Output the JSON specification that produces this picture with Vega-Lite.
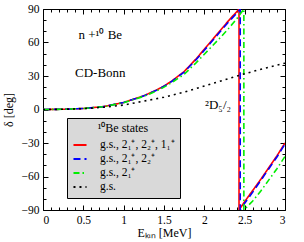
{
  "$schema": "https://vega.github.io/schema/vega-lite/v6.json",
  "width": 242,
  "height": 201,
  "autosize": "none",
  "padding": {"left": 43, "top": 9, "right": 19, "bottom": 32},
  "background": "white",
  "config": {
    "font": "Liberation Serif",
    "view": {"stroke": "black", "strokeWidth": 1},
    "axis": {"labelFont": "Liberation Serif", "titleFont": "Liberation Serif", "labelColor": "black", "titleColor": "black", "tickColor": "black", "domain": false, "grid": false, "labelFontSize": 11.5, "titleFontSize": 12, "titleFontWeight": "normal"}
  },
  "datasets": {
    "curves": [
      {"s": "g.s., 2₁⁺, 2₂⁺, 1₁⁺", "i": 1, "E": 0, "d": 0},
      {"s": "g.s., 2₁⁺, 2₂⁺, 1₁⁺", "i": 2, "E": 0.25, "d": 0.2},
      {"s": "g.s., 2₁⁺, 2₂⁺, 1₁⁺", "i": 3, "E": 0.5, "d": 0.9},
      {"s": "g.s., 2₁⁺, 2₂⁺, 1₁⁺", "i": 4, "E": 0.75, "d": 2.6},
      {"s": "g.s., 2₁⁺, 2₂⁺, 1₁⁺", "i": 5, "E": 1.0, "d": 6.3},
      {"s": "g.s., 2₁⁺, 2₂⁺, 1₁⁺", "i": 6, "E": 1.25, "d": 12.3},
      {"s": "g.s., 2₁⁺, 2₂⁺, 1₁⁺", "i": 7, "E": 1.4, "d": 17.2},
      {"s": "g.s., 2₁⁺, 2₂⁺, 1₁⁺", "i": 8, "E": 1.5, "d": 21},
      {"s": "g.s., 2₁⁺, 2₂⁺, 1₁⁺", "i": 9, "E": 1.6, "d": 25.7},
      {"s": "g.s., 2₁⁺, 2₂⁺, 1₁⁺", "i": 10, "E": 1.75, "d": 34},
      {"s": "g.s., 2₁⁺, 2₂⁺, 1₁⁺", "i": 11, "E": 1.9, "d": 45.5},
      {"s": "g.s., 2₁⁺, 2₂⁺, 1₁⁺", "i": 12, "E": 2.0, "d": 54},
      {"s": "g.s., 2₁⁺, 2₂⁺, 1₁⁺", "i": 13, "E": 2.1, "d": 62.5},
      {"s": "g.s., 2₁⁺, 2₂⁺, 1₁⁺", "i": 14, "E": 2.2, "d": 71},
      {"s": "g.s., 2₁⁺, 2₂⁺, 1₁⁺", "i": 15, "E": 2.3, "d": 79.5},
      {"s": "g.s., 2₁⁺, 2₂⁺, 1₁⁺", "i": 16, "E": 2.4, "d": 87.5},
      {"s": "g.s., 2₁⁺, 2₂⁺, 1₁⁺", "i": 17, "E": 2.43, "d": 90},
      {"s": "g.s., 2₁⁺, 2₂⁺, 1₁⁺", "i": 18, "E": 2.43, "d": -90},
      {"s": "g.s., 2₁⁺, 2₂⁺, 1₁⁺", "i": 19, "E": 2.5, "d": -82.5},
      {"s": "g.s., 2₁⁺, 2₂⁺, 1₁⁺", "i": 20, "E": 2.6, "d": -72.5},
      {"s": "g.s., 2₁⁺, 2₂⁺, 1₁⁺", "i": 21, "E": 2.7, "d": -62.5},
      {"s": "g.s., 2₁⁺, 2₂⁺, 1₁⁺", "i": 22, "E": 2.8, "d": -52},
      {"s": "g.s., 2₁⁺, 2₂⁺, 1₁⁺", "i": 23, "E": 2.9, "d": -41.5},
      {"s": "g.s., 2₁⁺, 2₂⁺, 1₁⁺", "i": 24, "E": 3.0, "d": -30},
      {"s": "g.s., 2₁⁺, 2₂⁺", "i": 1, "E": 0, "d": 0},
      {"s": "g.s., 2₁⁺, 2₂⁺", "i": 2, "E": 0.25, "d": 0.2},
      {"s": "g.s., 2₁⁺, 2₂⁺", "i": 3, "E": 0.5, "d": 0.9},
      {"s": "g.s., 2₁⁺, 2₂⁺", "i": 4, "E": 0.75, "d": 2.6},
      {"s": "g.s., 2₁⁺, 2₂⁺", "i": 5, "E": 1.0, "d": 6.3},
      {"s": "g.s., 2₁⁺, 2₂⁺", "i": 6, "E": 1.25, "d": 12.2},
      {"s": "g.s., 2₁⁺, 2₂⁺", "i": 7, "E": 1.4, "d": 17},
      {"s": "g.s., 2₁⁺, 2₂⁺", "i": 8, "E": 1.5, "d": 20.8},
      {"s": "g.s., 2₁⁺, 2₂⁺", "i": 9, "E": 1.6, "d": 25.3},
      {"s": "g.s., 2₁⁺, 2₂⁺", "i": 10, "E": 1.75, "d": 33.5},
      {"s": "g.s., 2₁⁺, 2₂⁺", "i": 11, "E": 1.9, "d": 44.8},
      {"s": "g.s., 2₁⁺, 2₂⁺", "i": 12, "E": 2.0, "d": 53},
      {"s": "g.s., 2₁⁺, 2₂⁺", "i": 13, "E": 2.1, "d": 61.5},
      {"s": "g.s., 2₁⁺, 2₂⁺", "i": 14, "E": 2.2, "d": 70},
      {"s": "g.s., 2₁⁺, 2₂⁺", "i": 15, "E": 2.3, "d": 78.3},
      {"s": "g.s., 2₁⁺, 2₂⁺", "i": 16, "E": 2.4, "d": 86.2},
      {"s": "g.s., 2₁⁺, 2₂⁺", "i": 17, "E": 2.445, "d": 90},
      {"s": "g.s., 2₁⁺, 2₂⁺", "i": 18, "E": 2.445, "d": -90},
      {"s": "g.s., 2₁⁺, 2₂⁺", "i": 19, "E": 2.5, "d": -84},
      {"s": "g.s., 2₁⁺, 2₂⁺", "i": 20, "E": 2.6, "d": -74},
      {"s": "g.s., 2₁⁺, 2₂⁺", "i": 21, "E": 2.7, "d": -63.5},
      {"s": "g.s., 2₁⁺, 2₂⁺", "i": 22, "E": 2.8, "d": -53},
      {"s": "g.s., 2₁⁺, 2₂⁺", "i": 23, "E": 2.9, "d": -42.5},
      {"s": "g.s., 2₁⁺, 2₂⁺", "i": 24, "E": 3.0, "d": -31},
      {"s": "g.s., 2₁⁺", "i": 1, "E": 0, "d": 0},
      {"s": "g.s., 2₁⁺", "i": 2, "E": 0.25, "d": 0.2},
      {"s": "g.s., 2₁⁺", "i": 3, "E": 0.5, "d": 0.9},
      {"s": "g.s., 2₁⁺", "i": 4, "E": 0.75, "d": 2.5},
      {"s": "g.s., 2₁⁺", "i": 5, "E": 1.0, "d": 6.1},
      {"s": "g.s., 2₁⁺", "i": 6, "E": 1.25, "d": 11.8},
      {"s": "g.s., 2₁⁺", "i": 7, "E": 1.4, "d": 16.3},
      {"s": "g.s., 2₁⁺", "i": 8, "E": 1.5, "d": 20},
      {"s": "g.s., 2₁⁺", "i": 9, "E": 1.6, "d": 24.3},
      {"s": "g.s., 2₁⁺", "i": 10, "E": 1.75, "d": 31.5},
      {"s": "g.s., 2₁⁺", "i": 11, "E": 1.9, "d": 42},
      {"s": "g.s., 2₁⁺", "i": 12, "E": 2.0, "d": 49.5},
      {"s": "g.s., 2₁⁺", "i": 13, "E": 2.1, "d": 57},
      {"s": "g.s., 2₁⁺", "i": 14, "E": 2.2, "d": 64.5},
      {"s": "g.s., 2₁⁺", "i": 15, "E": 2.3, "d": 72.5},
      {"s": "g.s., 2₁⁺", "i": 16, "E": 2.4, "d": 81},
      {"s": "g.s., 2₁⁺", "i": 17, "E": 2.49, "d": 90},
      {"s": "g.s., 2₁⁺", "i": 18, "E": 2.49, "d": -90},
      {"s": "g.s., 2₁⁺", "i": 19, "E": 2.6, "d": -82},
      {"s": "g.s., 2₁⁺", "i": 20, "E": 2.7, "d": -73},
      {"s": "g.s., 2₁⁺", "i": 21, "E": 2.8, "d": -63},
      {"s": "g.s., 2₁⁺", "i": 22, "E": 2.9, "d": -53},
      {"s": "g.s., 2₁⁺", "i": 23, "E": 3.0, "d": -42},
      {"s": "g.s.", "i": 1, "E": 0, "d": 0},
      {"s": "g.s.", "i": 2, "E": 0.25, "d": 0.2},
      {"s": "g.s.", "i": 3, "E": 0.5, "d": 0.8},
      {"s": "g.s.", "i": 4, "E": 0.75, "d": 2},
      {"s": "g.s.", "i": 5, "E": 1.0, "d": 4},
      {"s": "g.s.", "i": 6, "E": 1.25, "d": 7.5},
      {"s": "g.s.", "i": 7, "E": 1.5, "d": 11},
      {"s": "g.s.", "i": 8, "E": 1.75, "d": 15.5},
      {"s": "g.s.", "i": 9, "E": 2.0, "d": 21},
      {"s": "g.s.", "i": 10, "E": 2.25, "d": 26.5},
      {"s": "g.s.", "i": 11, "E": 2.5, "d": 32},
      {"s": "g.s.", "i": 12, "E": 2.75, "d": 37},
      {"s": "g.s.", "i": 13, "E": 3.0, "d": 41.5}
    ],
    "notes": [
      {"t": "n +¹⁰ Be", "E": 0.71, "d": 67},
      {"t": "CD-Bonn", "E": 0.71, "d": 33},
      {"t": "²D₅/₂", "E": 2.17, "d": 4}
    ]
  },
  "resolve": {"axis": {"x": "independent", "y": "independent"}},
  "layer": [
    {
      "data": {"name": "curves"},
      "mark": {"type": "line", "strokeWidth": 1.6, "clip": true},
      "encoding": {
        "x": {"field": "E", "type": "quantitative", "scale": {"domain": [0, 3], "nice": false, "zero": false},
              "axis": {"orient": "bottom", "values": [0, 0.5, 1, 1.5, 2, 2.5, 3], "format": "~g", "tickSize": -5, "labelPadding": 9, "title": "Eₖᵢₙ [MeV]", "titlePadding": 2}},
        "y": {"field": "d", "type": "quantitative", "scale": {"domain": [-90, 90], "nice": false, "zero": false},
              "axis": {"orient": "left", "values": [-90, -60, -30, 0, 30, 60, 90], "tickSize": -5, "labelPadding": 9, "title": "δ [deg]", "titlePadding": 6}},
        "color": {"field": "s", "type": "nominal",
                  "scale": {"domain": ["g.s., 2₁⁺, 2₂⁺, 1₁⁺", "g.s., 2₁⁺, 2₂⁺", "g.s., 2₁⁺", "g.s."], "range": ["#ff0000", "#0000ff", "#00ee00", "#000000"]},
                  "legend": {"orient": "none", "legendX": 24, "legendY": 109, "title": "¹⁰Be states", "titleAnchor": "middle", "titleFont": "Liberation Serif", "titleFontSize": 12, "titleFontWeight": "normal", "titleColor": "black", "titlePadding": 2, "labelFont": "Liberation Serif", "labelFontSize": 11.5, "labelColor": "black", "fillColor": "#d9d9d9", "strokeColor": "black", "padding": 5, "symbolType": "stroke", "symbolStrokeWidth": 2, "symbolSize": 170, "rowPadding": 0, "labelOffset": 12}},
        "strokeDash": {"field": "s", "type": "nominal",
                  "scale": {"domain": ["g.s., 2₁⁺, 2₂⁺, 1₁⁺", "g.s., 2₁⁺, 2₂⁺", "g.s., 2₁⁺", "g.s."], "range": [[1, 0], [7, 4], [6, 3, 1.5, 3], [2, 4]]},
                  "legend": {"orient": "none", "legendX": 24, "legendY": 109, "title": "¹⁰Be states"}},
        "order": {"field": "i", "type": "quantitative"}
      }
    },
    {
      "data": {"name": "notes"},
      "mark": {"type": "text", "font": "Liberation Serif", "fontSize": 13, "color": "black", "baseline": "middle", "align": "center"},
      "encoding": {
        "x": {"field": "E", "type": "quantitative", "axis": {"orient": "top", "values": [0, 0.5, 1, 1.5, 2, 2.5, 3], "tickSize": -5, "labels": false, "title": null}},
        "y": {"field": "d", "type": "quantitative", "axis": {"orient": "right", "values": [-90, -60, -30, 0, 30, 60, 90], "tickSize": -5, "labels": false, "title": null}},
        "text": {"field": "t", "type": "nominal"}
      }
    },
    {
      "data": {"name": "curves"},
      "mark": {"type": "point", "opacity": 0},
      "encoding": {
        "x": {"field": "E", "type": "quantitative", "axis": {"orient": "bottom", "values": [0.1, 0.2, 0.3, 0.4, 0.6, 0.7, 0.8, 0.9, 1.1, 1.2, 1.3, 1.4, 1.6, 1.7, 1.8, 1.9, 2.1, 2.2, 2.3, 2.4, 2.6, 2.7, 2.8, 2.9], "tickSize": -3, "labels": false, "title": null}},
        "y": {"field": "d", "type": "quantitative", "axis": {"orient": "left", "values": [-80, -70, -50, -40, -20, -10, 10, 20, 40, 50, 70, 80], "tickSize": -3, "labels": false, "title": null}}
      }
    },
    {
      "data": {"name": "curves"},
      "mark": {"type": "point", "opacity": 0},
      "encoding": {
        "x": {"field": "E", "type": "quantitative", "axis": {"orient": "top", "values": [0.1, 0.2, 0.3, 0.4, 0.6, 0.7, 0.8, 0.9, 1.1, 1.2, 1.3, 1.4, 1.6, 1.7, 1.8, 1.9, 2.1, 2.2, 2.3, 2.4, 2.6, 2.7, 2.8, 2.9], "tickSize": -3, "labels": false, "title": null}},
        "y": {"field": "d", "type": "quantitative", "axis": {"orient": "right", "values": [-80, -70, -50, -40, -20, -10, 10, 20, 40, 50, 70, 80], "tickSize": -3, "labels": false, "title": null}}
      }
    }
  ]
}
